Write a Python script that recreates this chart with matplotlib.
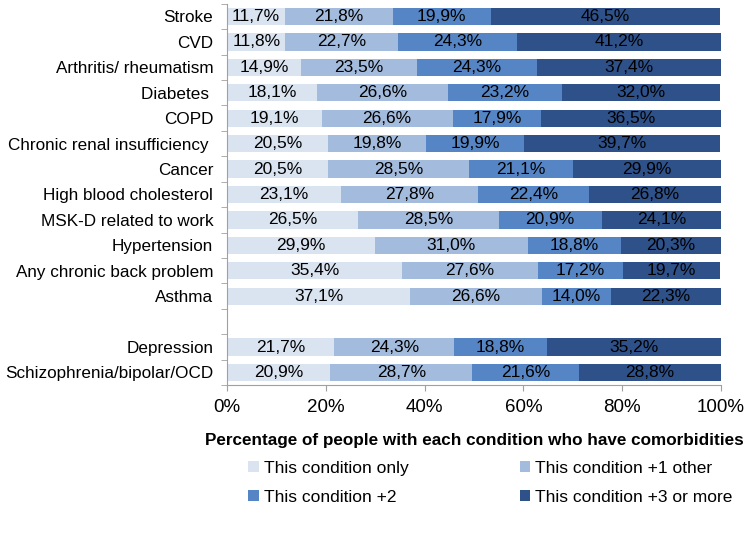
import numpy as np
import matplotlib.pyplot as plt

plt.rcParams['font.family'] = ['Liberation Sans', 'DejaVu Sans']

conditions = ["Stroke", "CVD", "Arthritis/ rheumatism", "Diabetes ", "COPD",
              "Chronic renal insufficiency ", "Cancer", "High blood cholesterol",
              "MSK-D related to work", "Hypertension", "Any chronic back problem",
              "Asthma", "", "Depression", "Schizophrenia/bipolar/OCD"]

# None marks the empty spacer row between the two groups
only = [11.7, 11.8, 14.9, 18.1, 19.1, 20.5, 20.5, 23.1, 26.5, 29.9, 35.4, 37.1, None, 21.7, 20.9]
plus1 = [21.8, 22.7, 23.5, 26.6, 26.6, 19.8, 28.5, 27.8, 28.5, 31.0, 27.6, 26.6, None, 24.3, 28.7]
plus2 = [19.9, 24.3, 24.3, 23.2, 17.9, 19.9, 21.1, 22.4, 20.9, 18.8, 17.2, 14.0, None, 18.8, 21.6]
plus3 = [46.5, 41.2, 37.4, 32.0, 36.5, 39.7, 29.9, 26.8, 24.1, 20.3, 19.7, 22.3, None, 35.2, 28.8]

series_names = ["This condition only", "This condition +1 other",
                "This condition +2", "This condition +3 or more"]
colors = ["#dae3f0", "#a3bbdc", "#5585c4", "#2e5189"]

fig = plt.figure(figsize=(7.5, 5.38), dpi=100)
ax = fig.add_axes([0.303, 0.284, 0.658, 0.709])

y = np.arange(len(conditions))
left = np.zeros(len(conditions))
handles = []
for name, vals, col in zip(series_names, [only, plus1, plus2, plus3], colors):
    v = np.array([np.nan if x is None else x for x in vals])
    bars = ax.barh(y, np.nan_to_num(v), left=left, height=0.68, color=col, label=name)
    handles.append(bars)
    for yi, l, w in zip(y, left, v):
        if not np.isnan(w):
            ax.text(l + w / 2, yi, f"{w:.1f}%".replace(".", ","), ha="center",
                    va="center", fontsize=12.5, color="black")
    left += np.nan_to_num(v)

ax.set_xlim(0, 100)
ax.set_ylim(len(conditions) - 0.5, -0.5)
ax.set_yticks(y)
ax.set_yticklabels(conditions, fontsize=12.3)
ax.tick_params(axis="y", which="major", length=0, pad=10)
ax.set_yticks(np.arange(-0.5, len(conditions) + 0.5, 1), minor=True)
ax.tick_params(axis="y", which="minor", length=4, color="#a0a0a0")
ax.set_xticks(np.arange(0, 101, 20))
ax.set_xticklabels([f"{t}%" for t in range(0, 101, 20)], fontsize=13.5)
ax.tick_params(axis="x", length=4, color="#a0a0a0", pad=6)
for s in ["top", "right"]:
    ax.spines[s].set_visible(False)
for s in ["left", "bottom"]:
    ax.spines[s].set_color("#a0a0a0")

ax.set_xlabel("Percentage of people with each condition who have comorbidities",
              fontsize=12.3, fontweight="bold", labelpad=12)

# row-wise legend order: only, +1 / +2, +3
order = [0, 2, 1, 3]
fig.legend([handles[i] for i in order], [series_names[i] for i in order],
           loc="upper left", bbox_to_anchor=(0.31, 0.172), ncol=2, frameon=False,
           fontsize=12.5, handlelength=0.6, handleheight=0.6, handletextpad=0.3,
           columnspacing=6.4, labelspacing=0.8)

fig.savefig("out.png", dpi=100)
